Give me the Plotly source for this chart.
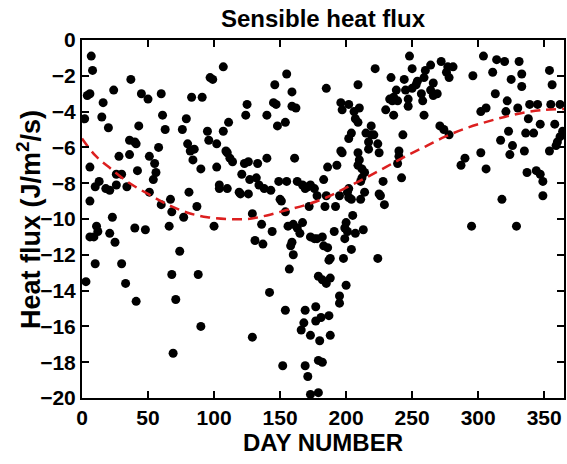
import plotly.graph_objects as go

# ── Daily sensible heat flux ─────────────────────────────────────────────────
day = [
    7, 8, 6, 4, 16, 24, 37, 45, 50, 60, 2, 15, 20, 43, 61, 63, 36, 40, 41, 58,
    28, 36, 51, 55, 56, 6, 26, 30, 42, 54, 13, 10, 18, 21, 26, 34, 51, 81, 67, 60,
    68, 6, 23, 77, 83, 91, 79, 76, 80, 82, 85, 84, 90,
    107, 97, 99, 125, 124, 111, 107, 95, 96, 102, 109, 110, 112, 114, 102, 123, 126, 133, 140, 121,
    127, 132, 134, 138, 143, 104, 104, 110, 119, 120, 126, 149, 155, 163, 167, 171, 173, 176, 169, 150,
    151, 129, 154, 172, 87, 146, 145, 147, 140, 148, 154, 155, 159, 159, 162, 161,
    248, 250, 222, 234, 244, 260, 264, 259, 185, 209, 238, 236, 233, 235, 239, 245, 250, 254, 253, 257,
    266, 264, 266, 269, 247, 247, 258, 259, 230, 236, 196, 202, 197, 210, 206, 207, 209, 219, 219, 215,
    221, 204, 202, 217, 217, 224, 225, 196, 197, 243, 240, 240, 239, 186, 193, 209, 210, 209, 212, 214,
    212, 211, 242, 183, 202, 201, 228, 178, 185, 195, 202, 204, 214, 211, 225, 226, 229, 184, 192,
    205, 200, 199, 201, 207, 213, 199, 191, 182, 178, 183, 186, 204, 188, 187, 198, 224, 179, 182, 185,
    188, 200, 195, 195, 181, 187, 180, 188, 179, 182,
    100, 136, 144, 131, 137, 156, 160, 163, 167, 165, 159, 158, 160, 173, 176, 157, 88, 142, 154, 90,
    169, 177, 177, 168, 166, 173, 129, 152, 169, 171, 173, 179,
    11, 12, 6, 9, 21, 25, 40, 48, 66, 74, 10, 30, 3, 33, 68, 41, 71, 69,
    304, 314, 320, 331, 311, 333, 325, 333, 354, 356, 296, 272, 277, 281, 276, 278, 313, 322, 321, 330,
    306, 302, 339, 345, 355, 362, 338, 347, 358, 271, 274, 278, 323, 336, 342, 317, 326, 362, 360, 359,
    364, 335, 354, 302, 324, 290, 287, 306, 337, 344, 347, 349, 349, 318, 295, 329,
]
flux = [
    -0.9, -1.7, -3.0, -3.1, -3.5, -2.8, -2.2, -3.0, -3.3, -3.0, -4.4, -4.3, -4.9, -4.8, -4.2, -5.0, -5.6, -5.7, -5.8, -6.0,
    -6.5, -6.4, -6.5, -6.9, -7.4, -7.1, -7.5, -7.5, -7.3, -7.8, -7.9, -8.2, -8.3, -8.4, -8.1, -8.2, -8.5, -8.5, -8.9, -9.2,
    -9.6, -9.0, -9.9, -9.9, -3.2, -3.2, -4.4, -5.0, -5.8, -6.2, -6.1, -6.7, -7.2,
    -1.5, -2.1, -2.2, -3.6, -4.2, -4.6, -5.1, -5.1, -5.6, -5.8, -6.2, -6.3, -6.6, -6.8, -7.1, -6.9, -6.8, -6.9, -6.6, -7.5,
    -7.8, -7.7, -8.1, -8.3, -8.4, -8.1, -8.3, -8.3, -8.5, -8.6, -8.6, -7.9, -7.9, -7.9, -8.1, -8.2, -8.1, -8.3, -8.3, -8.9,
    -9.0, -9.7, -9.6, -9.3, -9.3, -2.5, -3.5, -3.6, -4.2, -4.8, -4.6, -1.9, -2.9, -3.7, -3.8, -6.6,
    -0.9, -1.6, -1.6, -2.1, -2.2, -1.7, -1.4, -2.1, -2.7, -2.5, -2.8, -3.2, -3.3, -3.4, -3.4, -2.8, -2.7, -2.3, -2.5, -3.0,
    -2.4, -2.8, -3.1, -3.0, -3.3, -3.7, -3.4, -4.2, -3.9, -4.2, -3.5, -3.6, -3.9, -3.8, -4.0, -4.4, -4.6, -4.8, -5.3, -5.2,
    -5.3, -5.2, -5.5, -5.7, -6.1, -5.8, -6.3, -6.2, -6.3, -5.3, -6.2, -6.5, -6.9, -7.1, -7.0, -6.3, -6.7, -7.0, -7.2, -7.4,
    -7.7, -7.9, -7.7, -7.8, -8.3, -8.5, -7.9, -8.7, -8.7, -8.7, -8.8, -8.9, -8.5, -8.9, -8.6, -8.7, -9.2, -9.3, -9.3,
    -9.8, -10.2, -10.5, -10.7, -10.8, -10.6, -11.1, -10.7, -11.0, -11.1, -11.5, -11.6, -11.7, -12.2, -12.3, -12.2, -12.2, -13.2, -13.4, -13.6,
    -13.3, -13.7, -14.3, -14.7, -15.5, -15.4, -16.8, -16.5, -17.9, -18.0,
    -10.4, -10.3, -10.7, -11.2, -11.4, -10.4, -10.3, -10.5, -10.2, -10.8, -11.3, -11.5, -12.0, -11.0, -11.1, -12.8, -13.1, -14.1, -15.1, -16.0,
    -15.1, -14.9, -15.7, -15.8, -16.2, -16.5, -16.6, -18.2, -18.2, -18.8, -19.8, -19.7,
    -10.4, -10.7, -11.0, -11.0, -10.8, -11.3, -10.5, -10.6, -10.4, -11.8, -12.5, -12.5, -13.5, -13.6, -13.1, -14.6, -14.5, -17.5,
    -0.9, -1.1, -1.2, -1.2, -1.8, -1.9, -2.2, -2.6, -1.7, -2.5, -2.0, -1.2, -1.5, -1.5, -1.8, -2.1, -3.0, -3.4, -4.0, -3.8,
    -3.8, -4.0, -3.6, -3.6, -3.6, -3.6, -4.4, -4.7, -4.7, -4.8, -5.0, -5.3, -5.1, -5.2, -5.2, -5.6, -5.9, -5.4, -5.7, -5.9,
    -5.1, -6.2, -6.2, -6.3, -6.4, -6.6, -7.0, -7.2, -7.4, -7.3, -7.5, -7.9, -8.7, -8.9, -10.4, -10.4,
]

# fitted seasonal curve (red dashed)
curve_day = [0, 10, 22, 35, 50, 65, 80, 95, 110, 125, 140, 155, 170, 185,
             200, 215, 230, 245, 260, 275, 290, 305, 320, 335, 350, 365]
curve_flux = [-5.5, -6.45, -7.2, -7.95, -8.6, -9.2, -9.65, -9.9, -10.0, -10.0, -9.8, -9.5, -9.2, -8.8,
              -8.25, -7.7, -7.1, -6.5, -5.95, -5.4, -4.95, -4.6, -4.3, -4.05, -3.9, -3.85]

x_ticks = [0, 50, 100, 150, 200, 250, 300, 350]
y_ticks = [0, -2, -4, -6, -8, -10, -12, -14, -16, -18, -20]

FONT = "Liberation Sans, Arial, sans-serif"

fig = go.Figure()
fig.add_trace(go.Scatter(
    x=day, y=flux, mode="markers",
    marker=dict(color="black", size=9, line=dict(width=0)),
    showlegend=False,
))
fig.add_trace(go.Scatter(
    x=curve_day, y=curve_flux, mode="lines",
    line=dict(color="#dc1f1f", width=2.5, dash="10px,6px", shape="spline"),
    showlegend=False,
))

axis_common = dict(
    showline=True, linewidth=2, linecolor="black", mirror="ticks",
    ticks="inside", ticklen=7, tickwidth=2, tickcolor="black",
    showgrid=False, zeroline=False, automargin=False,
    tickfont=dict(family=FONT, size=21, color="black", weight="bold"),
)

fig.update_layout(
    width=567, height=464,
    margin=dict(l=82, r=3, t=40, b=66, autoexpand=False),
    plot_bgcolor="white", paper_bgcolor="white",
    title=dict(
        text="Sensible heat flux", x=0.5, xref="paper", xanchor="center",
        y=1 - 19 / 464, yref="container", yanchor="middle",
        font=dict(family=FONT, size=24, color="black", weight="bold"),
    ),
    xaxis=dict(
        range=[0, 365], tickvals=x_ticks,
        title=dict(text="DAY NUMBER", standoff=2,
                   font=dict(family=FONT, size=24, color="black", weight="bold")),
        **axis_common,
    ),
    yaxis=dict(range=[-20, 0], tickvals=y_ticks, **axis_common),
)

# y title sits a little closer to the tick labels than plotly allows
fig.add_annotation(
    text="Heat flux (J/m<sup>2</sup>/s)", textangle=-90,
    xref="paper", yref="paper", x=-0.11, y=0.5,
    xanchor="center", yanchor="middle", showarrow=False,
    font=dict(family=FONT, size=27, color="black", weight="bold"),
)

# page has a default 8px body margin; drop it so the figure sits at the corner
fig.write_html("out.html", config={"displayModeBar": False},
               post_script="document.body.style.margin='0px';")
